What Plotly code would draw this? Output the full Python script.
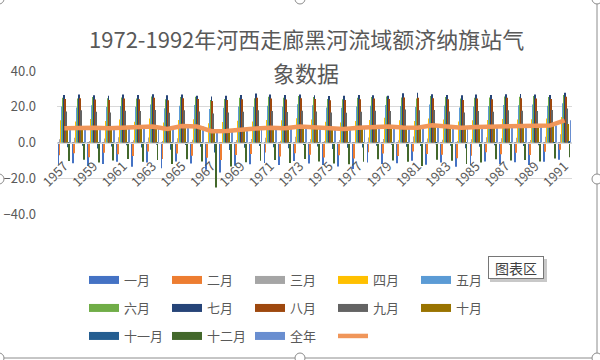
import plotly.graph_objects as go

# ---------------- data ----------------
years = [str(y) for y in range(1957, 1992)]
tick_years = years[::2]

month_names = ["一月", "二月", "三月", "四月", "五月", "六月",
               "七月", "八月", "九月", "十月", "十一月", "十二月"]

jan = [-12.4, -11.6, -13.2, -12.0, -10.8, -13.6, -11.2, -14.4, -10.6, -11.8,
       -15.2, -16.8, -13.0, -12.2, -11.4, -12.6, -10.4, -11.8, -12.6, -13.4,
       -14.8, -11.2, -12.0, -11.6, -10.2, -12.4, -11.2, -13.6, -12.8, -10.6,
       -12.2, -11.0, -12.6, -10.8, -9.6]
feb = [-7.2, -6.0, -8.2, -5.8, -6.6, -7.6, -5.0, -9.2, -6.2, -7.4,
       -8.6, -9.8, -7.0, -6.4, -5.6, -7.8, -6.0, -6.8, -8.4, -7.2,
       -9.0, -5.4, -6.2, -7.6, -5.0, -6.4, -6.8, -8.8, -7.4, -5.4,
       -6.6, -5.8, -7.0, -5.2, -4.0]
mar = [1.8, 2.6, 0.8, 2.2, 3.0, 1.2, 2.8, 0.4, 2.4, 1.6,
       -0.6, 0.2, 1.4, 2.0, 2.6, 1.0, 3.2, 1.8, 0.6, 1.4,
       0.2, 2.8, 2.0, 1.2, 3.4, 2.2, 1.6, 0.8, 1.8, 3.0,
       2.4, 2.6, 1.4, 3.2, 4.6]
apr = [12.4, 11.8, 13.2, 12.0, 12.8, 11.6, 13.4, 11.2, 12.6, 13.0,
       10.8, 11.4, 12.2, 11.8, 12.6, 12.4, 13.6, 12.8, 11.6, 11.2,
       12.0, 12.6, 13.8, 12.4, 12.0, 13.4, 12.8, 11.8, 12.4, 12.6,
       13.2, 12.8, 13.0, 13.4, 14.2]
may = [20.2, 19.6, 20.8, 19.8, 20.4, 20.0, 21.2, 19.2, 20.6, 21.0,
       18.8, 19.4, 20.2, 19.8, 20.6, 20.0, 21.4, 20.8, 19.6, 19.4,
       20.2, 20.6, 21.0, 20.4, 19.8, 21.2, 20.6, 19.6, 20.2, 20.4,
       21.0, 20.8, 21.2, 20.6, 22.0]
jun = [25.0, 24.6, 25.4, 24.8, 25.2, 24.6, 25.8, 24.2, 25.4, 25.6,
       23.8, 24.4, 25.0, 24.8, 25.6, 25.0, 26.0, 25.4, 24.4, 24.2,
       25.0, 25.4, 25.8, 25.2, 24.6, 26.0, 25.4, 24.6, 25.0, 25.2,
       25.8, 25.6, 26.0, 25.4, 26.6]
jul = [26.6, 26.8, 26.4, 26.2, 26.8, 26.6, 27.0, 26.4, 26.8, 26.2,
       25.8, 26.2, 26.6, 27.4, 26.8, 26.6, 26.8, 26.4, 26.0, 26.2,
       26.6, 26.4, 26.2, 27.6, 27.8, 27.0, 26.6, 26.4, 26.8, 26.6,
       27.0, 27.2, 26.8, 26.6, 27.8]
aug = [24.4, 24.8, 24.0, 23.8, 24.6, 24.2, 25.0, 23.6, 24.8, 24.4,
       23.2, 23.8, 24.2, 25.0, 24.6, 24.0, 24.8, 24.4, 23.6, 23.8,
       24.2, 24.6, 24.4, 25.2, 25.0, 24.8, 24.2, 23.8, 24.6, 24.2,
       25.0, 24.8, 24.6, 24.4, 25.6]
sep = [17.4, 18.0, 17.2, 16.8, 17.8, 17.6, 18.2, 16.6, 18.0, 17.4,
       16.2, 16.8, 17.2, 18.0, 17.6, 17.0, 17.8, 17.4, 16.8, 16.6,
       17.2, 17.8, 17.6, 18.4, 18.0, 18.2, 17.4, 16.8, 17.6, 17.2,
       18.0, 17.8, 17.6, 18.2, 19.0]
oct_ = [8.2, 8.8, 7.6, 8.0, 8.6, 9.0, 9.2, 7.4, 9.0, 8.4,
        6.8, 7.2, 8.0, 8.6, 8.2, 7.8, 9.4, 8.4, 7.6, 7.2,
        8.0, 8.8, 9.0, 8.6, 8.2, 9.6, 8.8, 7.6, 8.4, 8.6,
        9.2, 9.0, 8.8, 9.4, 10.4]
nov = [-2.6, -1.8, -3.4, -2.2, -1.6, -2.8, -1.2, -4.0, -1.4, -2.4,
       -5.6, -4.2, -3.0, -2.0, -2.6, -3.2, -1.4, -2.2, -3.6, -3.0,
       -2.8, -1.8, -1.2, -2.4, -2.0, -1.0, -1.8, -3.2, -2.4, -1.6,
       -1.2, -2.0, -1.6, -0.8, 0.4]
dec = [-10.4, -9.6, -11.2, -10.0, -9.2, -10.8, -9.8, -12.0, -9.4, -10.6,
       -25.2, -13.4, -11.0, -10.2, -9.8, -11.4, -9.2, -10.6, -11.8, -12.2,
       -10.8, -9.4, -10.0, -10.8, -13.2, -9.6, -10.2, -12.0, -11.2, -9.4,
       -10.0, -9.8, -10.6, -9.0, -8.2]
annual = [8.0, 8.3, 8.2, 8.0, 8.4, 8.6, 9.0, 7.6, 9.2, 9.0,
          6.3, 6.5, 7.3, 7.8, 8.2, 8.0, 9.0, 8.6, 7.8, 7.6,
          8.3, 8.8, 9.0, 8.4, 8.2, 9.6, 9.2, 8.3, 8.7, 8.8,
          9.5, 9.3, 9.6, 9.5, 12.4]

monthly = [jan, feb, mar, apr, may, jun, jul, aug, sep, oct_, nov, dec]
for s in monthly + [annual]:
    assert len(s) == len(years), len(s)

title_line1 = "1972-1992年河西走廊黑河流域额济纳旗站气"
title_line2 = "象数据"
annual_name = "全年"

# ---------------- style ----------------
month_colors = ["#4472C4", "#ED7D31", "#A5A5A5", "#FFC000", "#5B9BD5", "#70AD47",
                "#264478", "#9E480E", "#636363", "#997300", "#255E91", "#43682B"]
annual_color = "#698ED0"
line_color = "#F0965A"
text_color = "#595959"
grid_color = "#D9D9D9"
FONT = "Noto Sans CJK SC"

W, H = 600, 360
PL, PR, PT, PB = 57, 572, 71, 214  # plot area in pixels


def px_x(px):
    return (px - PL) / (PR - PL)


def px_y(py):
    return (PB - py) / (PB - PT)


fig = go.Figure()

legend_rows = ["legend", "legend2", "legend3"]
names = month_names + [annual_name]
colors = month_colors + [annual_color]
values = monthly + [annual]

for i, (nm, col, vals) in enumerate(zip(names, colors, values)):
    fig.add_trace(go.Bar(x=years, y=vals, name=nm, marker_color=col,
                         marker_line_width=0, showlegend=False, legendgroup=nm))
    # legend swatch drawn as a wide bar-like line
    fig.add_trace(go.Scatter(x=[None], y=[None], mode="lines", name=nm,
                             line=dict(color=col, width=8), legendgroup=nm,
                             legend=legend_rows[i // 5], hoverinfo="skip"))

fig.add_trace(go.Scatter(x=years, y=annual, mode="lines", name="",
                         line=dict(color=line_color, width=4.5),
                         legend="legend3", showlegend=True))

legend_common = dict(orientation="h", entrywidth=38, entrywidthmode="pixels",
                     itemwidth=30, xanchor="left", yanchor="middle",
                     font=dict(family=FONT, size=13, color=text_color),
                     bgcolor="rgba(0,0,0,0)", traceorder="normal")

shapes = []
# chart-area border (right and bottom)
shapes.append(dict(type="line", xref="paper", yref="paper",
                   x0=px_x(597), x1=px_x(597), y0=px_y(0), y1=px_y(358),
                   line=dict(color="#8C8C8C", width=1), layer="above"))
shapes.append(dict(type="line", xref="paper", yref="paper",
                   x0=px_x(0), x1=px_x(597), y0=px_y(358), y1=px_y(358),
                   line=dict(color="#8C8C8C", width=1), layer="above"))
for hx, hy in [(-1, -1), (300, -1), (597, -1), (-1, 179), (597, 179),
               (-1, 358), (300, 358), (597, 358)]:
    shapes.append(dict(type="circle", xref="paper", yref="paper",
                       xsizemode="pixel", ysizemode="pixel",
                       xanchor=px_x(hx), yanchor=px_y(hy),
                       x0=-5, x1=5, y0=-5, y1=5,
                       fillcolor="white", line=dict(color="#8C8C8C", width=1),
                       layer="above"))
# soft shadow under the "图表区" tooltip
shapes.append(dict(type="rect", xref="paper", yref="paper",
                   x0=px_x(490), x1=px_x(547), y0=px_y(259), y1=px_y(282),
                   fillcolor="#C8C8C8", line=dict(width=0), layer="above"))

annotations = [
    dict(text=title_line1, x=px_x(306), y=px_y(38), xref="paper", yref="paper",
         showarrow=False, xanchor="center", yanchor="middle",
         font=dict(family=FONT, size=22, color=text_color)),
    dict(text=title_line2, x=px_x(306), y=px_y(72), xref="paper", yref="paper",
         showarrow=False, xanchor="center", yanchor="middle",
         font=dict(family=FONT, size=22, color=text_color)),
    dict(text="图表区", x=px_x(515.5), y=px_y(267.5), xref="paper", yref="paper",
         showarrow=False, xanchor="center", yanchor="middle",
         width=52, height=19,
         font=dict(family=FONT, size=14, color="#404040"),
         bgcolor="white", bordercolor="#767676", borderwidth=1, borderpad=1),
]

fig.update_layout(
    width=W, height=H,
    margin=dict(l=PL, r=W - PR, t=PT, b=H - PB, pad=0, autoexpand=False),
    paper_bgcolor="white", plot_bgcolor="white",
    barmode="group", bargap=0.14, bargroupgap=0,
    font=dict(family=FONT, size=12, color=text_color),
    showlegend=True,
    legend=dict(legend_common, x=px_x(84), y=px_y(280)),
    legend2=dict(legend_common, x=px_x(84), y=px_y(308)),
    legend3=dict(legend_common, x=px_x(84), y=px_y(336)),
    shapes=shapes,
    annotations=annotations,
    xaxis=dict(type="category", categoryorder="array", categoryarray=years,
               tickmode="array", tickvals=tick_years, ticktext=tick_years,
               tickangle=-45, ticks="", showgrid=False,
               showline=True, linecolor=grid_color, linewidth=1,
               anchor="free", position=0.5, automargin=False,
               ticklabelstandoff=10,
               tickfont=dict(family=FONT, size=13, color=text_color)),
    yaxis=dict(range=[-40, 40], tickvals=[-40, -20, 0, 20, 40], tickformat=".1f",
               showgrid=True, gridcolor=grid_color, gridwidth=1,
               zeroline=False, showline=False, ticks="", automargin=False,
               ticklabelstandoff=20,
               tickfont=dict(family=FONT, size=13, color=text_color)),
)

fig.write_html("out.html")
